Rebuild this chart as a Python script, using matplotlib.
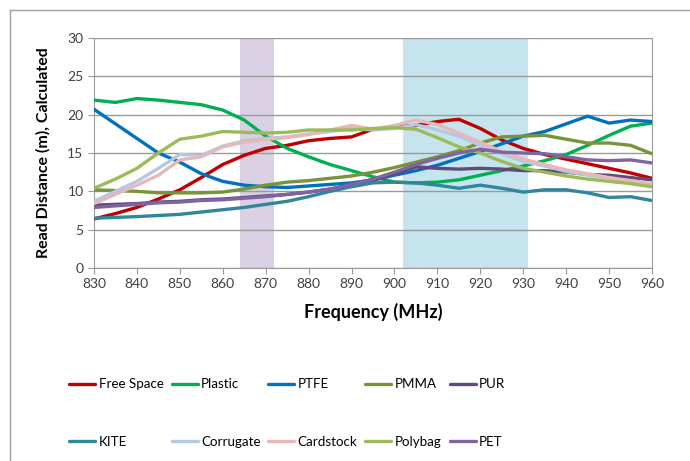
import matplotlib
matplotlib.use("Agg")
import matplotlib.pyplot as plt
from matplotlib.lines import Line2D

plt.rcParams['font.family'] = ['Lato', 'DejaVu Sans']

freq = list(range(830, 961, 5))

free_space = [6.4, 7.1, 7.9, 9.0, 10.2, 11.8, 13.5, 14.7, 15.6, 16.0, 16.6, 16.9, 17.1, 18.1,
              18.4, 18.6, 19.1, 19.4, 18.2, 16.7, 15.6, 14.8, 14.2, 13.6, 13.0, 12.4, 11.7]
plastic = [21.9, 21.6, 22.1, 21.9, 21.6, 21.3, 20.6, 19.3, 17.2, 15.6, 14.5, 13.5, 12.7, 11.9,
           11.2, 11.1, 11.2, 11.5, 12.1, 12.7, 13.3, 14.0, 14.8, 16.0, 17.3, 18.5, 18.9]
ptfe = [20.7, 18.8, 16.9, 15.0, 13.8, 12.3, 11.3, 10.8, 10.6, 10.5, 10.7, 10.9, 11.1, 11.5,
        12.1, 12.7, 13.4, 14.3, 15.2, 16.2, 17.2, 17.8, 18.8, 19.8, 18.9, 19.3, 19.1]
pmma = [10.2, 10.1, 10.0, 9.8, 9.8, 9.8, 9.9, 10.3, 10.8, 11.2, 11.4, 11.7, 12.0, 12.5,
        13.1, 13.8, 14.5, 15.3, 16.3, 17.1, 17.2, 17.3, 16.8, 16.3, 16.3, 16.0, 14.9]
pur = [8.2, 8.3, 8.4, 8.6, 8.7, 8.9, 9.0, 9.2, 9.4, 9.6, 9.9, 10.3, 10.8, 11.4,
       12.3, 13.2, 13.0, 12.9, 13.0, 12.9, 12.7, 12.7, 12.5, 12.2, 12.1, 11.8, 11.5]
kite = [6.5, 6.6, 6.7, 6.85, 7.0, 7.3, 7.6, 7.9, 8.3, 8.7, 9.3, 10.0, 10.6, 11.1,
        11.2, 11.1, 10.8, 10.4, 10.8, 10.4, 9.9, 10.2, 10.2, 9.8, 9.2, 9.3, 8.8]
corrugate = [8.7, 10.0, 11.3, 13.0, 14.8, 14.7, 15.9, 16.6, 16.9, 17.1, 17.5, 17.8, 18.2, 18.0,
             18.2, 18.7, 18.0, 17.2, 16.0, 14.9, 13.9, 13.3, 12.6, 12.1, 11.7, 11.3, 10.9]
cardstock = [8.4, 9.6, 10.8, 12.1, 14.1, 14.5, 15.8, 16.4, 16.8, 17.0, 17.4, 18.0, 18.6, 18.1,
             18.6, 19.3, 18.7, 17.6, 16.4, 15.2, 14.2, 13.5, 12.8, 12.3, 11.8, 11.4, 11.0]
polybag = [10.4, 11.6, 13.0, 15.0, 16.8, 17.2, 17.8, 17.7, 17.6, 17.7, 18.0, 18.0, 18.0, 18.2,
           18.3, 18.1, 17.0, 15.8, 15.0, 13.9, 13.0, 12.5, 12.0, 11.6, 11.3, 11.0, 10.6]
pet = [7.9, 8.1, 8.3, 8.5, 8.6, 8.8, 8.9, 9.1, 9.3, 9.6, 9.9, 10.3, 10.9, 11.6,
       12.5, 13.5, 14.3, 15.0, 15.5, 15.1, 15.0, 14.9, 14.5, 14.1, 14.0, 14.1, 13.7]

series_names = ["Free Space", "Plastic", "PTFE", "PMMA", "PUR",
                "KITE", "Corrugate", "Cardstock", "Polybag", "PET"]
series_values = [free_space, plastic, ptfe, pmma, pur, kite, corrugate, cardstock, polybag, pet]
series_colors = ["#C00000", "#00B050", "#0070C0", "#77933C", "#604A7B",
                 "#31859C", "#B4C7E4", "#E6B9B8", "#9BBB59", "#8064A2"]

band_eu = (864, 872)
band_us = (902, 931)

x_ticks = list(range(830, 961, 10))
y_ticks = list(range(0, 31, 5))

fig = plt.figure(figsize=(6.9, 4.61), dpi=100)
ax = fig.add_axes([94/690, 1-268/461, (652-94)/690, (268-38)/461])

ax.axvspan(*band_eu, color="#D9D0E3", lw=0, zorder=0)
ax.axvspan(*band_us, color="#C6E4ED", lw=0, zorder=0)

handles = []
for name, vals, col in zip(series_names, series_values, series_colors):
    h, = ax.plot(freq, vals, color=col, lw=2.4, label=name, solid_joinstyle='round',
                 solid_capstyle='round', zorder=3)
    handles.append(h)

ax.set_xlim(830, 960)
ax.set_ylim(0, 30)
ax.set_xticks(x_ticks)
ax.set_yticks(y_ticks)
ax.yaxis.grid(True, color="#9A9A9A", lw=1.0, zorder=1)
ax.set_axisbelow(True)
ax.spines["top"].set_visible(False)
for s in ["right", "left", "bottom"]:
    ax.spines[s].set_color("#9A9A9A")
ax.tick_params(axis='both', colors="#9A9A9A", labelcolor="#404040", labelsize=10, length=4)
ax.set_xlabel("Frequency (MHz)", fontsize=13, fontweight="bold", labelpad=9)
ax.set_ylabel("Read Distance (m), Calculated", fontsize=11.5, fontweight="bold", labelpad=12)

order = [0, 5, 1, 6, 2, 7, 3, 8, 4, 9]
leg = fig.legend([handles[i] for i in order], [series_names[i] for i in order],
                 ncol=5, loc="upper left", bbox_to_anchor=(64/690, 1-373/461),
                 frameon=False, fontsize=9.6, handlelength=1.95, handletextpad=0.25,
                 columnspacing=0.6, labelspacing=3.4, borderaxespad=0)

fig.add_artist(Line2D([10/690, 10/690], [0, 1-10/461], transform=fig.transFigure,
                      color="#A0A0A0", lw=1))
fig.add_artist(Line2D([10/690, 1], [1-10/461, 1-10/461], transform=fig.transFigure,
                      color="#A0A0A0", lw=1))

fig.savefig("out.png", dpi=100)
